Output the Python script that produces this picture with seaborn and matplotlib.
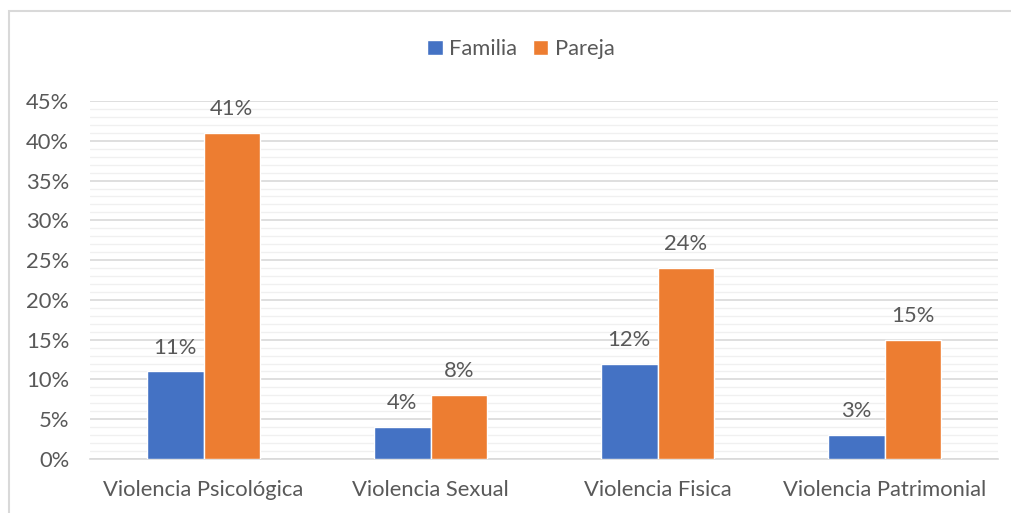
import matplotlib
matplotlib.use("Agg")
import matplotlib.pyplot as plt
import seaborn as sns
import pandas as pd
from matplotlib.ticker import MultipleLocator, FuncFormatter
from matplotlib.patches import Rectangle

categories = ["Violencia Psicológica", "Violencia Sexual", "Violencia Fisica", "Violencia Patrimonial"]
series_names = ["Familia", "Pareja"]
familia = [11, 4, 12, 3]
pareja = [41, 8, 24, 15]
colors = ["#4472C4", "#ED7D31"]

df = pd.DataFrame({
    "Categoria": categories * 2,
    "Serie": [series_names[0]] * len(categories) + [series_names[1]] * len(categories),
    "Valor": familia + pareja,
})

sns.set_theme(style="white")
plt.rcParams["font.family"] = ["Lato", "DejaVu Sans"]
text_color = "#595959"
fs = 15.8

fig = plt.figure(figsize=(10.12, 5.13), dpi=100)
ax = fig.add_axes([90 / 1012, 1 - 459 / 513, (998 - 90) / 1012, (459 - 101) / 513])

sns.barplot(data=df, x="Categoria", y="Valor", hue="Serie", palette=colors,
            width=0.5, gap=0, saturation=1, ax=ax, zorder=3, legend=True)

ax.set_ylim(0, 45)
ax.set_xlim(-0.5, len(categories) - 0.5)
ax.yaxis.set_major_locator(MultipleLocator(5))
ax.yaxis.set_minor_locator(MultipleLocator(1))
ax.yaxis.set_major_formatter(FuncFormatter(lambda v, p: f"{int(round(v))}%"))
ax.grid(which="major", axis="y", color="#d9d9d9", linewidth=1.2, zorder=0)
ax.grid(which="minor", axis="y", color="#f0f0f0", linewidth=1.0, zorder=0)
ax.set_axisbelow(True)
for s in ["top", "right", "left"]:
    ax.spines[s].set_visible(False)
ax.spines["bottom"].set_color("#d9d9d9")
ax.spines["bottom"].set_linewidth(1.2)
ax.tick_params(axis="both", which="both", length=0, labelsize=fs, colors=text_color)
ax.tick_params(axis="y", pad=15)
ax.tick_params(axis="x", pad=15)
ax.set_xlabel("")
ax.set_ylabel("")

for cont in ax.containers:
    ax.bar_label(cont, fmt="%d%%", padding=10, fontsize=fs, color=text_color)

handles, labels = ax.get_legend_handles_labels()
ax.legend(handles, labels, loc="center", bbox_to_anchor=(521 / 1012, 1 - 49 / 513),
          bbox_transform=fig.transFigure, ncol=2, frameon=False, fontsize=fs,
          handlelength=0.7, handleheight=0.7, handletextpad=0.3, columnspacing=0.7,
          labelcolor=text_color)

fig.patches.append(Rectangle((9 / 1012, -0.1), 1.2, 1 - 11 / 513 + 0.1,
                             transform=fig.transFigure, fill=False,
                             edgecolor="#d9d9d9", linewidth=1.5, zorder=0))

fig.savefig("out.png", dpi=100)
